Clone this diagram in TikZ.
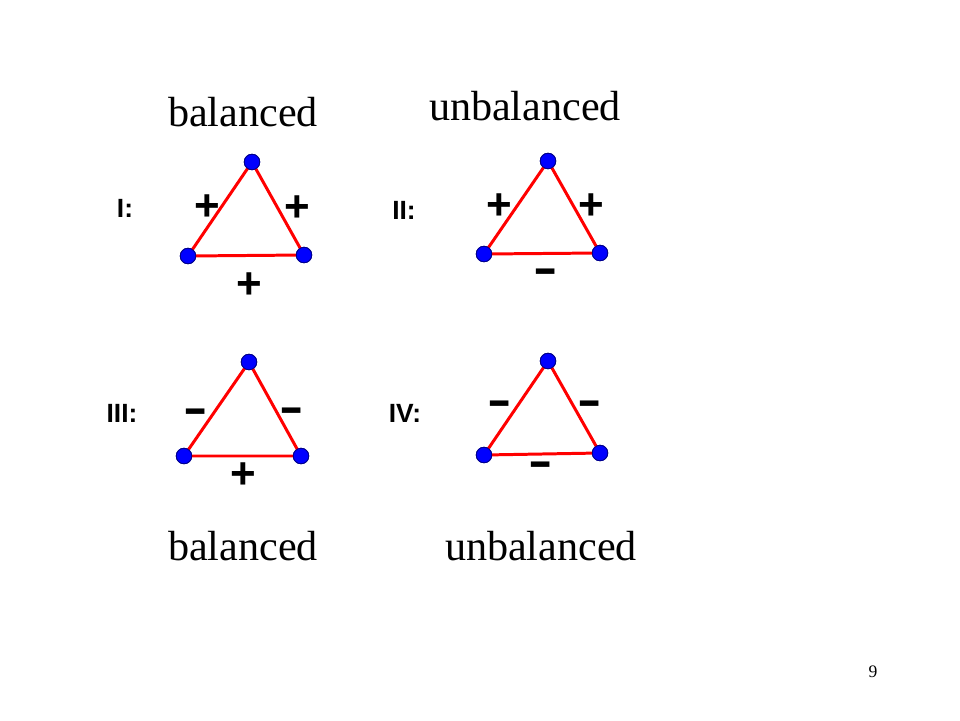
\documentclass[tikz,border=0pt]{standalone}
\usepackage{fontspec}
\setmainfont{Liberation Serif}
\newfontfamily\lsans{Liberation Sans}
\begin{document}
\begin{tikzpicture}[x=0.02cm,y=-0.02cm,
  vtx/.style={circle,fill=blue,draw=blue!55!black,line width=0.5pt,minimum size=0.31cm,inner sep=0pt},
  edg/.style={red,line width=1.7pt},
  title/.style={font=\fontsize{24}{28}\selectfont,inner sep=0pt},
  roman/.style={font=\lsans\bfseries\fontsize{15}{18}\selectfont,inner sep=0pt},
  plus/.style={font=\lsans\bfseries\fontsize{25}{30}\selectfont,inner sep=0pt,anchor=base},
  minus/.style={font=\lsans\bfseries\fontsize{26}{30}\selectfont,inner sep=0pt,anchor=base},
  pagenum/.style={font=\fontsize{10}{12}\selectfont,inner sep=0pt}]
\path[use as bounding box] (0,0) rectangle (960,720);
\newcommand\pl{+}
\newcommand\mi{\scalebox{1.6}[1]{-}}
% titles
\node[title] (t1) at (243,112) {balanced};
\node[title] (t2) at (525,106) {unbalanced};
\node[title] (t3) at (243,546) {balanced};
\node[title] (t4) at (541,546) {unbalanced};
% roman labels
\node[roman] (r1) at (125,208) {I:};
\node[roman] (r2) at (404,210) {II:};
\node[roman] (r3) at (122,413) {III:};
\node[roman] (r4) at (405,413) {IV:};
% triangle I
\node[vtx] (aT) at (252,162) {};
\node[vtx] (aL) at (188,256) {};
\node[vtx] (aR) at (304,255) {};
% triangle II
\node[vtx] (bT) at (548,161) {};
\node[vtx] (bL) at (484,254) {};
\node[vtx] (bR) at (600,253) {};
% triangle III
\node[vtx] (cT) at (249,362) {};
\node[vtx] (cL) at (184,456) {};
\node[vtx] (cR) at (301,456) {};
% triangle IV
\node[vtx] (dT) at (548,361) {};
\node[vtx] (dL) at (484,455) {};
\node[vtx] (dR) at (600,453) {};
\foreach \p in {a,b,c,d}{
  \draw[edg] (\p T.center) -- (\p L.center) -- (\p R.center) -- cycle;
}
\foreach \p in {a,b,c,d}{
  \node[vtx] at (\p T) {};
  \node[vtx] at (\p L) {};
  \node[vtx] at (\p R) {};
}
% signs (base positions: ink centre + offset)
\node[plus] (sa1) at (207,220) {\pl};
\node[plus] (sa2) at (297,221) {\pl};
\node[plus] (sa3) at (249,298) {\pl};
\node[plus] (sb1) at (499,219) {\pl};
\node[plus] (sb2) at (591,219) {\pl};
\node[minus] (sb3) at (546,283) {\mi};
\node[minus] (sc1) at (196,423) {\mi};
\node[minus] (sc2) at (292,422) {\mi};
\node[plus] (sc3) at (243,488) {\pl};
\node[minus] (sd1) at (500,415) {\mi};
\node[minus] (sd2) at (590,415) {\mi};
\node[minus] (sd3) at (541,476) {\mi};
% page number
\node[pagenum] (pg) at (873,672) {9};
\end{tikzpicture}
\end{document}
